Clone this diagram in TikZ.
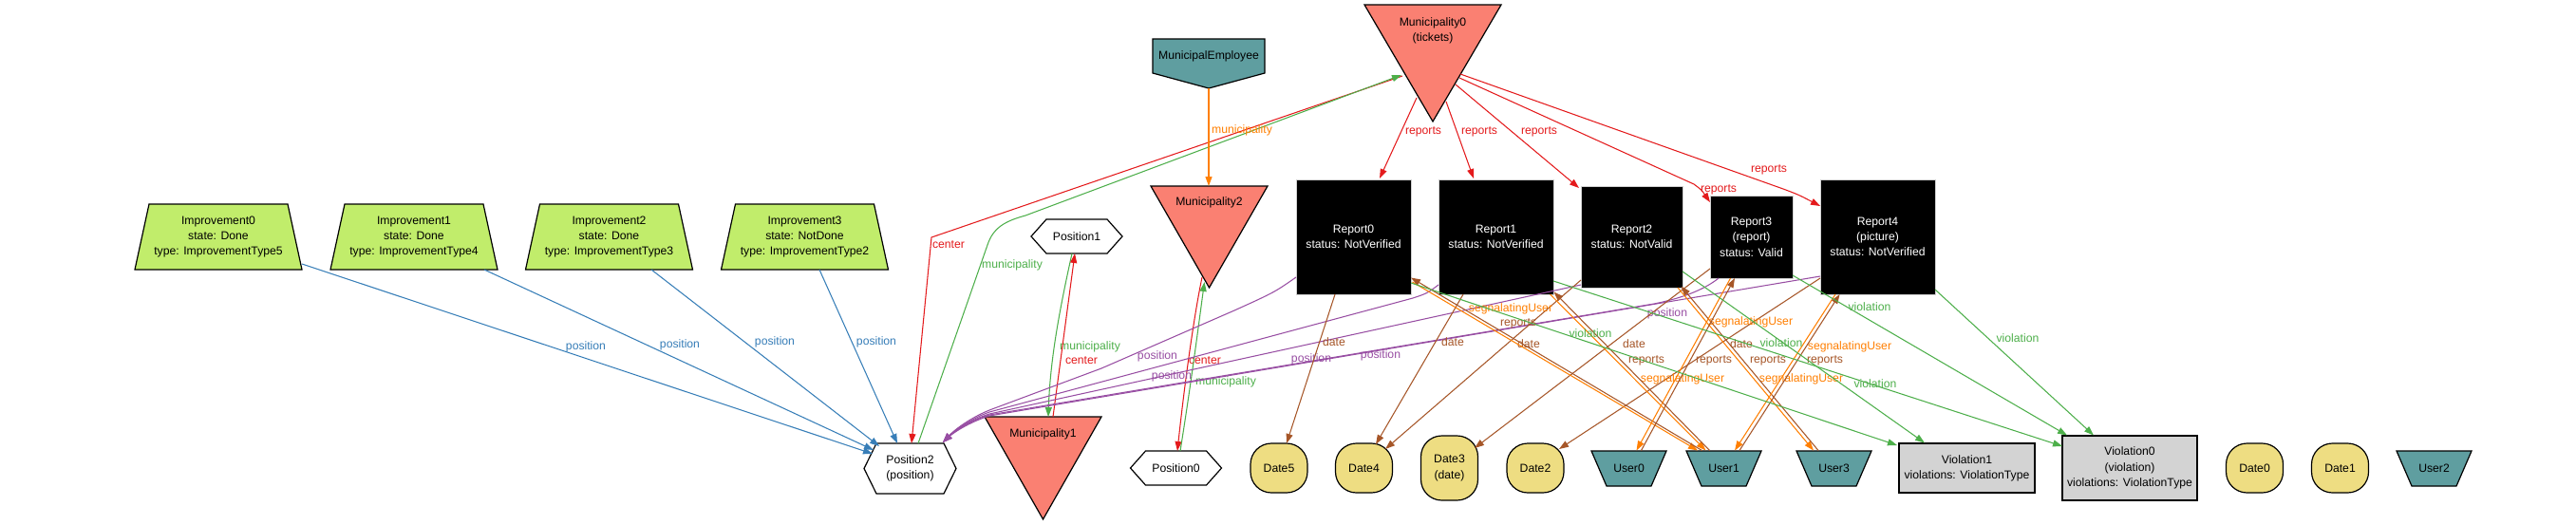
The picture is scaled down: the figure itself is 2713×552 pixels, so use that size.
\documentclass[tikz,border=0pt]{standalone}
\usepackage{fontspec}
\setmainfont{Liberation Sans}
\usetikzlibrary{arrows.meta,backgrounds}
\definecolor{ered}{HTML}{E41A1C}
\definecolor{egreen}{HTML}{4DAF4A}
\definecolor{eblue}{HTML}{377EB8}
\definecolor{epurple}{HTML}{984EA3}
\definecolor{eorange}{HTML}{FF7F00}
\definecolor{ebrown}{HTML}{A65628}
\definecolor{impfill}{RGB}{193,237,107}
\definecolor{munfill}{HTML}{FA8072}
\definecolor{tealfill}{HTML}{5F9EA0}
\definecolor{datefill}{HTML}{EEDD82}
\definecolor{violfill}{HTML}{D3D3D3}
\newcommand{\nf}{\fontsize{12.2}{16.3}\selectfont}
\tikzset{
  nbox/.style 2 args={minimum width=#1pt, minimum height=#2pt, inner sep=0pt, outer sep=0pt, align=center, font=\nf},
  txt/.style={inner sep=0pt, align=center, font=\nf},
  repbox/.style={fill=black, draw=black!18, line width=0.8pt, text=white},
  violbox/.style={fill=violfill, draw=black, line width=1.3pt},
  shapeline/.style={draw=black, line width=1.2pt},
  conn/.style={line width=1.05pt, -{Triangle[length=10pt,width=7pt]}},
  lbl/.style={inner sep=0pt, font=\nf},
  cred/.style={conn, color=ered},
  cgreen/.style={conn, color=egreen},
  cblue/.style={conn, color=eblue},
  cpurple/.style={conn, color=epurple},
  corange/.style={conn, color=eorange},
  cbrown/.style={conn, color=ebrown},
}
\newcommand{\TrapUp}[3]{\begin{pgfonlayer}{background}\draw[shapeline,fill=#3] ([shift={(#2,0)}]#1.north west) -- ([shift={(-#2,0)}]#1.north east) -- (#1.south east) -- (#1.south west) -- cycle;\end{pgfonlayer}}
\newcommand{\TrapDown}[3]{\begin{pgfonlayer}{background}\draw[shapeline,fill=#3] (#1.north west) -- (#1.north east) -- ([shift={(-#2,0)}]#1.south east) -- ([shift={(#2,0)}]#1.south west) -- cycle;\end{pgfonlayer}}
\newcommand{\HexShape}[2]{\begin{pgfonlayer}{background}\draw[shapeline,fill=white] (#1.west) -- ([shift={(#2,0)}]#1.north west) -- ([shift={(-#2,0)}]#1.north east) -- (#1.east) -- ([shift={(-#2,0)}]#1.south east) -- ([shift={(#2,0)}]#1.south west) -- cycle;\end{pgfonlayer}}
\newcommand{\TriDown}[1]{\begin{pgfonlayer}{background}\draw[shapeline,fill=munfill] (#1.north west) -- (#1.north east) -- (#1.south) -- cycle;\end{pgfonlayer}}
\newcommand{\PentDown}[2]{\begin{pgfonlayer}{background}\draw[shapeline,fill=tealfill] (#1.north west) -- (#1.north east) -- (#1.south east) -- ([shift={(0,#2)}]#1.south) -- (#1.south west) -- cycle;\end{pgfonlayer}}
\newcommand{\DateShape}[1]{\begin{pgfonlayer}{background}\draw[shapeline,fill=datefill,rounded corners=22pt] (#1.south west) rectangle (#1.north east);\end{pgfonlayer}}
\begin{document}
\begin{tikzpicture}[x=1pt,y=-1pt]
\begin{pgfonlayer}{background}
\fill[white] (0,0) rectangle (2713,552);
\end{pgfonlayer}
\useasboundingbox (0,0) rectangle (2713,552);

% Improvements
\node[nbox={176}{69}] (imp0) at (230,249.5) {Improvement0\\state: Done\\type: ImprovementType5};
\TrapUp{imp0}{15}{impfill}
\node[nbox={176}{69}] (imp1) at (436,249.5) {Improvement1\\state: Done\\type: ImprovementType4};
\TrapUp{imp1}{15}{impfill}
\node[nbox={176}{69}] (imp2) at (641.5,249.5) {Improvement2\\state: Done\\type: ImprovementType3};
\TrapUp{imp2}{15}{impfill}
\node[nbox={176}{69}] (imp3) at (847.5,249.5) {Improvement3\\state: NotDone\\type: ImprovementType2};
\TrapUp{imp3}{15}{impfill}

% Positions
\node[nbox={97}{53}] (pos2) at (958.5,493.5) {Position2\\(position)};
\HexShape{pos2}{13}
\node[nbox={96}{36}] (pos1) at (1134,249) {Position1};
\HexShape{pos1}{16}
\node[nbox={96}{36}] (pos0) at (1238.5,493) {Position0};
\HexShape{pos0}{16}

% Municipalities
\node[nbox={144}{123}] (mun0) at (1509,66.5) {};
\TriDown{mun0}
\node[txt] (mun0t) at (1509,32) {Municipality0\\(tickets)};
\node[nbox={123}{107}] (mun2) at (1273.5,249.5) {};
\TriDown{mun2}
\node[txt] (mun2t) at (1273.5,213) {Municipality2};
\node[nbox={123}{108}] (mun1) at (1098.5,493) {};
\TriDown{mun1}
\node[txt] (mun1t) at (1098.5,457) {Municipality1};

\node[nbox={118}{36}] (memp) at (1273,59) {MunicipalEmployee};
\PentDown{memp}{16}

% Reports
\node[nbox={121}{121},repbox] (rep0) at (1425.5,249.5) {Report0\\status: NotVerified};
\node[nbox={121}{121},repbox] (rep1) at (1575.5,249.5) {Report1\\status: NotVerified};
\node[nbox={107}{107},repbox] (rep2) at (1718.5,249.5) {Report2\\status: NotValid};
\node[nbox={87}{87},repbox] (rep3) at (1844.5,249.5) {Report3\\(report)\\status: Valid};
\node[nbox={121}{121},repbox] (rep4) at (1977.5,249.5) {Report4\\(picture)\\status: NotVerified};

% Dates
\node[nbox={60}{52}] (date5) at (1347,493) {Date5};
\DateShape{date5}
\node[nbox={60}{52}] (date4) at (1436.5,493) {Date4};
\DateShape{date4}
\node[nbox={60}{68}] (date3) at (1526.5,493) {Date3\\(date)};
\DateShape{date3}
\node[nbox={60}{52}] (date2) at (1617,493) {Date2};
\DateShape{date2}
\node[nbox={60}{52}] (date0) at (2374.5,493) {Date0};
\DateShape{date0}
\node[nbox={60}{52}] (date1) at (2464.5,493) {Date1};
\DateShape{date1}

% Users
\node[nbox={79}{37}] (user0) at (1715.5,493.5) {User0};
\TrapDown{user0}{16}{tealfill}
\node[nbox={79}{37}] (user1) at (1815.5,493.5) {User1};
\TrapDown{user1}{16}{tealfill}
\node[nbox={79}{37}] (user3) at (1931.5,493.5) {User3};
\TrapDown{user3}{16}{tealfill}
\node[nbox={79}{37}] (user2) at (2563.5,493.5) {User2};
\TrapDown{user2}{16}{tealfill}

% Violations
\node[nbox={143}{52},violbox] (viol1) at (2071.5,493) {Violation1\\violations: ViolationType};
\node[nbox={142}{68},violbox] (viol0) at (2243,493) {Violation0\\(violation)\\violations: ViolationType};

% ---- edges: Improvement.position
\draw[cblue] ([shift={(88,28.5)}]imp0.center) -- ([shift={(-39.5,-15.5)}]pos2.center) node[lbl,at={(617,365)}] (lb0) {position};
\draw[cblue] ([shift={(74,34.5)}]imp1.center) -- ([shift={(-38.5,-19.5)}]pos2.center) node[lbl,at={(716,363)}] (lb1) {position};
\draw[cblue] ([shift={(44.5,34.5)}]imp2.center) -- ([shift={(-32.5,-23.5)}]pos2.center) node[lbl,at={(816,360)}] (lb2) {position};
\draw[cblue] ([shift={(15.5,34.5)}]imp3.center) -- ([shift={(-13.5,-26.5)}]pos2.center) node[lbl,at={(923,360)}] (lb3) {position};

% Municipality0 <-> Position2
\draw[cred] ([shift={(-32,13.5)}]mun0.center) -- (981,250) -- ([shift={(1.5,-26.5)}]pos2.center) node[lbl,at={(999,258)}] (lc0) {center};
\draw[cgreen] ([shift={(8.5,-26.5)}]pos2.center) -- (1040,258) .. controls (1046,240) and (1058,233) .. (1080,227) -- ([shift={(-33,12.5)}]mun0.center) node[lbl,at={(1066,279)}] (lm0) {municipality};

% Municipality1 <-> Position1
\draw[cgreen] ([shift={(-5,18)}]pos1.center) .. controls (1115,330) and (1106,380) .. ([shift={(5.5,-54)}]mun1.center) node[lbl,at={(1148,365)}] (lm1) {municipality};
\draw[cred] ([shift={(10.5,-54)}]mun1.center) -- ([shift={(-2,18)}]pos1.center) node[lbl,at={(1139,380)}] (lc1) {center};

% Municipality2 <-> Position0
\draw[cred] ([shift={(-7.5,42.5)}]mun2.center) .. controls (1258,330) and (1248,400) .. ([shift={(1.5,-18)}]pos0.center) node[lbl,at={(1269,380)}] (lc2) {center};
\draw[cgreen] ([shift={(4.5,-18)}]pos0.center) .. controls (1255,400) and (1264,330) .. ([shift={(-5,47.5)}]mun2.center) node[lbl,at={(1291,402)}] (lm2) {municipality};

% MunicipalEmployee -> Municipality2
\draw[corange] ([shift={(0,34)}]memp.center) -- ([shift={(-0.5,-53.5)}]mun2.center) node[lbl,at={(1308,137)}] (lme) {municipality};

% Municipality0.reports
\draw[cred] ([shift={(-17,36.5)}]mun0.center) -- ([shift={(27.5,-61.5)}]rep0.center) node[lbl,at={(1499,139)}] (lr0) {reports};
\draw[cred] ([shift={(14,40.5)}]mun0.center) -- ([shift={(-23.5,-61.5)}]rep1.center) node[lbl,at={(1558,139)}] (lr1) {reports};
\draw[cred] ([shift={(24,22.5)}]mun0.center) -- ([shift={(-55.5,-51.5)}]rep2.center) node[lbl,at={(1621,139)}] (lr2) {reports};
\draw[cred] ([shift={(28,15.5)}]mun0.center) -- (1784,194) .. controls (1792,200) .. ([shift={(-43.5,-36.5)}]rep3.center) node[lbl,at={(1810,200)}] (lr3) {reports};
\draw[cred] ([shift={(29,11.5)}]mun0.center) -- (1878,199) .. controls (1894,205) .. ([shift={(-60.5,-32.5)}]rep4.center) node[lbl,at={(1863,179)}] (lr4) {reports};

% Report.position
\draw[cpurple] ([shift={(-60.5,42.5)}]rep0.center) .. controls (1342,308) .. (1300,327) -- (1160,388) -- (1042,432) .. controls (1020,441) and (1004,454) .. ([shift={(34.5,-27.5)}]pos2.center) node[lbl,at={(1219,375)}] (lp0) {position};
\draw[cpurple] ([shift={(-60.5,50.5)}]rep1.center) .. controls (1503,309) .. (1488,314) -- (1042,434) .. controls (1020,442) and (1004,455) .. ([shift={(34.5,-27.5)}]pos2.center) node[lbl,at={(1381,378)}] (lp1) {position};
\draw[cpurple] ([shift={(-53.5,50.5)}]rep2.center) -- (1042,436) .. controls (1020,443) and (1004,455) .. ([shift={(34.5,-27.5)}]pos2.center) node[lbl,at={(1234,396)}] (lp2) {position};
\draw[cpurple] ([shift={(-34.5,43.5)}]rep3.center) .. controls (1795,305) and (1772,314) .. (1742,320) -- (1042,437) .. controls (1020,444) and (1004,455) .. ([shift={(34.5,-27.5)}]pos2.center) node[lbl,at={(1454,374)}] (lp3) {position};
\draw[cpurple] ([shift={(-60.5,41.5)}]rep4.center) -- (1042,438) .. controls (1020,445) and (1004,456) .. ([shift={(34.5,-27.5)}]pos2.center) node[lbl,at={(1756,330)}] (lp4) {position};

% Report.date
\draw[cbrown] ([shift={(-19.5,60.5)}]rep0.center) -- ([shift={(8,-26)}]date5.center) node[lbl,at={(1405,360)}] (ld0) {date};
\draw[cbrown] ([shift={(-34.5,60.5)}]rep1.center) -- ([shift={(12.5,-25)}]date4.center) node[lbl,at={(1530,360)}] (ld1) {date};
\draw[cbrown] ([shift={(-53.5,45.5)}]rep2.center) -- ([shift={(22.5,-20)}]date4.center) node[lbl,at={(1610,362)}] (ld2) {date};
\draw[cbrown] ([shift={(-43.5,33.5)}]rep3.center) -- ([shift={(26.5,-21)}]date3.center) node[lbl,at={(1721,362)}] (ld3) {date};
\draw[cbrown] ([shift={(-60.5,43.5)}]rep4.center) -- ([shift={(25,-20)}]date2.center) node[lbl,at={(1834,362)}] (ld4) {date};

% Report.segnalatingUser and User.reports
\draw[corange] ([shift={(62,47.5)}]rep0.center) -- ([shift={(-27.5,-19)}]user1.center) node[lbl,at={(1591,325)}] (ls0) {segnalatingUser};
\draw[cbrown] ([shift={(-23,-19)}]user1.center) -- ([shift={(60.5,43)}]rep0.center) node[lbl,at={(1599,341)}] (lu0) {reports};
\draw[corange] ([shift={(57,60.5)}]rep1.center) -- ([shift={(-19,-19)}]user1.center) node[lbl,at={(1772,399)}] (ls1) {segnalatingUser};
\draw[cbrown] ([shift={(-15,-19)}]user1.center) -- ([shift={(61,58)}]rep1.center) node[lbl,at={(1734,380)}] (lu1) {reports};
\draw[corange] ([shift={(48.5,53.5)}]rep2.center) -- ([shift={(-21.5,-19)}]user3.center) node[lbl,at={(1897,399)}] (ls2) {segnalatingUser};
\draw[cbrown] ([shift={(-16.5,-19)}]user3.center) -- ([shift={(52,52)}]rep2.center) node[lbl,at={(1862,380)}] (lu2) {reports};
\draw[corange] ([shift={(-22,43.5)}]rep3.center) -- ([shift={(8,-19)}]user0.center) node[lbl,at={(1844,339)}] (ls3) {segnalatingUser};
\draw[cbrown] ([shift={(13,-19)}]user0.center) -- ([shift={(-17.5,43.5)}]rep3.center) node[lbl,at={(1805,380)}] (lu3) {reports};
\draw[corange] ([shift={(-44.5,60.5)}]rep4.center) -- ([shift={(11.5,-19)}]user1.center) node[lbl,at={(1948,365)}] (ls4) {segnalatingUser};
\draw[cbrown] ([shift={(16.5,-19)}]user1.center) -- ([shift={(-40,60.5)}]rep4.center) node[lbl,at={(1922,380)}] (lu4) {reports};

% Report.violation
\draw[cgreen] ([shift={(60.5,48.5)}]rep0.center) -- ([shift={(-73.5,-24)}]viol1.center) node[lbl,at={(1675,351)}] (lv0) {violation};
\draw[cgreen] ([shift={(60.5,46.5)}]rep1.center) -- ([shift={(-71,-23)}]viol0.center) node[lbl,at={(1975,404)}] (lv1) {violation};
\draw[cgreen] ([shift={(53.5,36.5)}]rep2.center) -- ([shift={(-44.5,-26.5)}]viol1.center) node[lbl,at={(1876,361)}] (lv2) {violation};
\draw[cgreen] ([shift={(43.5,40.5)}]rep3.center) -- ([shift={(-66,-34.5)}]viol0.center) node[lbl,at={(1969,323)}] (lv3) {violation};
\draw[cgreen] ([shift={(60.5,55.5)}]rep4.center) -- ([shift={(-38,-34.5)}]viol0.center) node[lbl,at={(2125,356)}] (lv4) {violation};
\end{tikzpicture}
\end{document}
